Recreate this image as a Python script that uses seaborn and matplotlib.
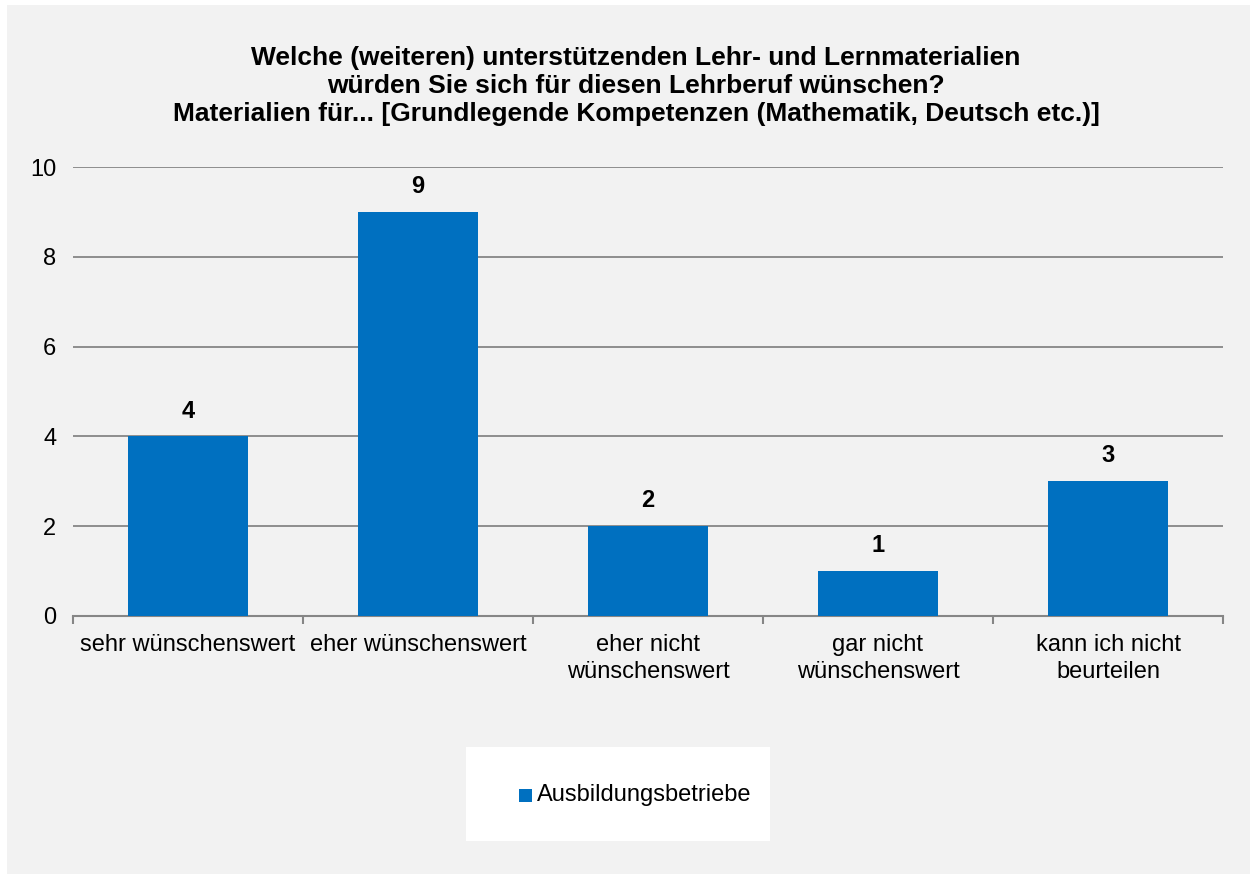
import matplotlib
matplotlib.use("Agg")
import matplotlib.pyplot as plt
import seaborn as sns
import pandas as pd
from matplotlib.patches import Rectangle

categories = ["sehr wünschenswert", "eher wünschenswert", "eher nicht\nwünschenswert",
              "gar nicht\nwünschenswert", "kann ich nicht\nbeurteilen"]
values = [4, 9, 2, 1, 3]
series_name = "Ausbildungsbetriebe"
yticks = [0, 2, 4, 6, 8, 10]
title = ("Welche (weiteren) unterstützenden Lehr- und Lernmaterialien\n"
         "würden Sie sich für diesen Lehrberuf wünschen?\n"
         "Materialien für... [Grundlegende Kompetenzen (Mathematik, Deutsch etc.)]")

sns.set_theme(style="white")
plt.rcParams['font.family'] = ['Liberation Sans', 'DejaVu Sans']
plt.rcParams['text.color'] = 'black'

BLUE = "#0070C0"
GRID = "#868686"
BG = "#F2F2F2"

W, H = 1250, 874
fig = plt.figure(figsize=(W / 100, H / 100), dpi=100)
fig.patch.set_facecolor("white")
fig.add_artist(Rectangle((7 / W, 0), (W - 7) / W, (H - 5) / H, transform=fig.transFigure,
                         facecolor=BG, edgecolor="none", zorder=-10))

ax = fig.add_axes([73 / W, 1 - 616 / H, 1150 / W, 449 / H])
ax.set_facecolor("none")

df = pd.DataFrame({"cat": categories, "val": values, "series": series_name})
sns.barplot(data=df, x="cat", y="val", hue="series", palette=[BLUE], width=0.52,
            saturation=1, ax=ax, legend=False, zorder=3, linewidth=0, edgecolor="none")

ax.set_xlim(-0.5, len(categories) - 0.5)
ax.set_ylim(0, 10)
ax.set_yticks(yticks)
ax.set_yticklabels([str(t) for t in yticks], fontsize=17)
ax.yaxis.grid(True, color=GRID, linewidth=1.3)
ax.set_axisbelow(True)
for s in ["top", "right", "left"]:
    ax.spines[s].set_visible(False)
ax.spines["bottom"].set_color(GRID)
ax.spines["bottom"].set_linewidth(1.5)
ax.tick_params(axis="y", length=0, pad=12, labelcolor="black")

# category ticks at boundaries
ax.set_xticks(range(len(categories)))
ax.set_xticklabels(categories, fontsize=17, linespacing=1.32)
ax.tick_params(axis="x", which="major", length=0, pad=13, labelcolor="black")
ax.set_xticks([i - 0.5 for i in range(len(categories) + 1)], minor=True)
ax.tick_params(axis="x", which="minor", bottom=True, length=6, width=1.5, color=GRID,
               direction="out")
ax.set_xlabel("")
ax.set_ylabel("")

for c in ax.containers:
    ax.bar_label(c, labels=[str(v) for v in values], fontsize=17, fontweight="bold",
                 padding=10, color="black")

fig.text(636 / W, 1 - 86 / H, title, ha="center", va="center", fontsize=19,
         fontweight="bold", linespacing=1.22, color="black")

# legend box
lx0, ly0, lx1, ly1 = 466, 747, 770, 841
fig.add_artist(Rectangle((lx0 / W, 1 - ly1 / H), (lx1 - lx0) / W, (ly1 - ly0) / H,
                         transform=fig.transFigure, facecolor="white", edgecolor="none", zorder=1))
fig.add_artist(Rectangle((519 / W, 1 - 802 / H), 13 / W, 13 / H, transform=fig.transFigure,
                         facecolor=BLUE, edgecolor="none", zorder=2))
fig.text(537 / W, 1 - 795 / H, series_name, ha="left", va="center", fontsize=17, zorder=3,
         color="black")

fig.savefig("out.png", dpi=100, facecolor=fig.get_facecolor())
